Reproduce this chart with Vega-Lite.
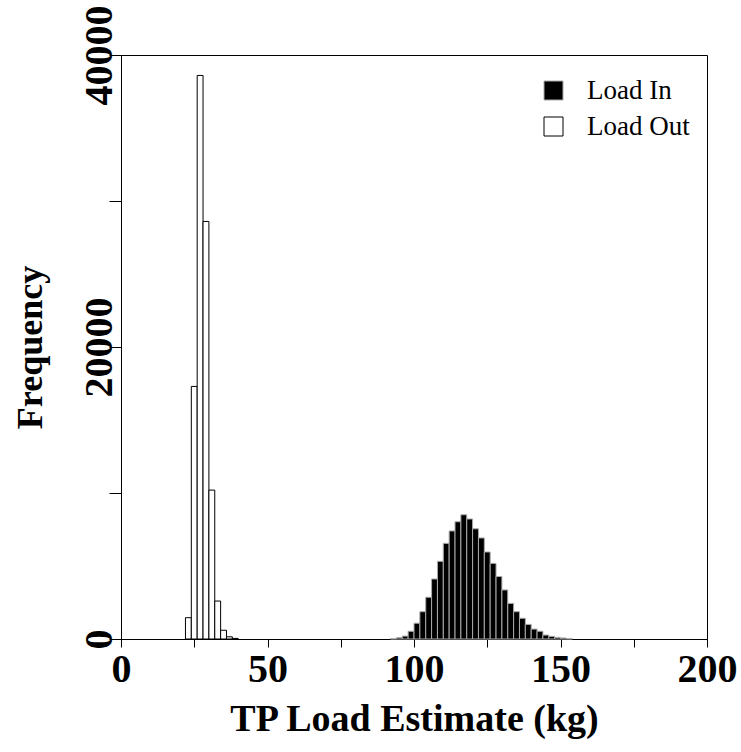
{
  "$schema": "https://vega.github.io/schema/vega-lite/v6.json",
  "width": 586,
  "height": 584,
  "autosize": {"type": "none"},
  "padding": {"left": 121, "top": 55, "right": 34, "bottom": 113},
  "background": "white",
  "config": {
    "view": {"stroke": "black", "strokeWidth": 1},
    "font": "Liberation Serif"
  },
  "data": {
    "values": [
      {"series": "Load Out", "start": 22, "end": 24, "count": 1460},
      {"series": "Load Out", "start": 24, "end": 26, "count": 17300},
      {"series": "Load Out", "start": 26, "end": 28, "count": 38600},
      {"series": "Load Out", "start": 28, "end": 30, "count": 28600},
      {"series": "Load Out", "start": 30, "end": 32, "count": 10200},
      {"series": "Load Out", "start": 32, "end": 34, "count": 2600},
      {"series": "Load Out", "start": 34, "end": 36, "count": 600},
      {"series": "Load Out", "start": 36, "end": 38, "count": 150},
      {"series": "Load Out", "start": 38, "end": 40, "count": 40},
      {"series": "Load In", "start": 92, "end": 94, "count": 20},
      {"series": "Load In", "start": 94, "end": 96, "count": 90},
      {"series": "Load In", "start": 96, "end": 98, "count": 200},
      {"series": "Load In", "start": 98, "end": 100, "count": 530},
      {"series": "Load In", "start": 100, "end": 102, "count": 1080},
      {"series": "Load In", "start": 102, "end": 104, "count": 1870},
      {"series": "Load In", "start": 104, "end": 106, "count": 2860},
      {"series": "Load In", "start": 106, "end": 108, "count": 4110},
      {"series": "Load In", "start": 108, "end": 110, "count": 5320},
      {"series": "Load In", "start": 110, "end": 112, "count": 6550},
      {"series": "Load In", "start": 112, "end": 114, "count": 7400},
      {"series": "Load In", "start": 114, "end": 116, "count": 8030},
      {"series": "Load In", "start": 116, "end": 118, "count": 8510},
      {"series": "Load In", "start": 118, "end": 120, "count": 8220},
      {"series": "Load In", "start": 120, "end": 122, "count": 7550},
      {"series": "Load In", "start": 122, "end": 124, "count": 6920},
      {"series": "Load In", "start": 124, "end": 126, "count": 5960},
      {"series": "Load In", "start": 126, "end": 128, "count": 5180},
      {"series": "Load In", "start": 128, "end": 130, "count": 4280},
      {"series": "Load In", "start": 130, "end": 132, "count": 3360},
      {"series": "Load In", "start": 132, "end": 134, "count": 2440},
      {"series": "Load In", "start": 134, "end": 136, "count": 1870},
      {"series": "Load In", "start": 136, "end": 138, "count": 1420},
      {"series": "Load In", "start": 138, "end": 140, "count": 1000},
      {"series": "Load In", "start": 140, "end": 142, "count": 680},
      {"series": "Load In", "start": 142, "end": 144, "count": 530},
      {"series": "Load In", "start": 144, "end": 146, "count": 270},
      {"series": "Load In", "start": 146, "end": 148, "count": 180},
      {"series": "Load In", "start": 148, "end": 150, "count": 110},
      {"series": "Load In", "start": 150, "end": 152, "count": 70},
      {"series": "Load In", "start": 152, "end": 154, "count": 20}
    ]
  },
  "mark": {"type": "bar", "strokeWidth": 1},
  "encoding": {
    "x": {
      "field": "start",
      "type": "quantitative",
      "scale": {"domain": [0, 200], "nice": false, "zero": false},
      "axis": {
        "values": [0, 25, 50, 75, 100, 125, 150, 175, 200],
        "labelExpr": "datum.value % 50 === 0 ? datum.label : ''",
        "grid": false,
        "domainColor": "black",
        "tickColor": "black",
        "tickSize": 8,
        "labelFontSize": 40,
        "labelFontWeight": "bold",
        "labelColor": "black",
        "labelBaseline": "alphabetic",
        "labelPadding": 34,
        "labelFlush": false,
        "labelOverlap": false,
        "labelBound": false,
        "title": "TP Load Estimate (kg)",
        "titleFontSize": 38,
        "titleFontWeight": "bold",
        "titleColor": "black",
        "titleBaseline": "alphabetic",
        "titleY": 91,
        "titleX": 293,
        "titleAnchor": "middle"
      }
    },
    "x2": {"field": "end"},
    "y": {
      "field": "count",
      "type": "quantitative",
      "scale": {"domain": [0, 40000], "nice": false},
      "axis": {
        "values": [0, 10000, 20000, 30000, 40000],
        "format": "d",
        "labelExpr": "datum.value % 20000 === 0 ? datum.label : ''",
        "grid": false,
        "domainColor": "black",
        "tickColor": "black",
        "tickSize": 12,
        "labelFontSize": 40,
        "labelFontWeight": "bold",
        "labelColor": "black",
        "labelAngle": 270,
        "labelAlign": "center",
        "labelBaseline": "alphabetic",
        "labelPadding": -2,
        "labelFlush": false,
        "labelOverlap": false,
        "labelBound": false,
        "title": "Frequency",
        "titleFontSize": 36,
        "titleFontWeight": "bold",
        "titleColor": "black",
        "titleAngle": 270,
        "titleAlign": "center",
        "titleBaseline": "alphabetic",
        "titleX": -80,
        "titleY": 292
      }
    },
    "y2": {"datum": 0},
    "fill": {
      "field": "series",
      "type": "nominal",
      "scale": {"domain": ["Load In", "Load Out"], "range": ["black", "white"]},
      "legend": {
        "title": null,
        "orient": "none",
        "legendX": 419,
        "legendY": 22,
        "symbolType": "square",
        "symbolSize": 361,
        "symbolStrokeColor": "black",
        "symbolStrokeWidth": 1,
        "labelFontSize": 27,
        "labelColor": "black",
        "labelFont": "Liberation Serif",
        "labelOffset": 20,
        "rowPadding": 8
      }
    },
    "stroke": {
      "field": "series",
      "type": "nominal",
      "scale": {"domain": ["Load In", "Load Out"], "range": ["#aaaaaa", "black"]},
      "legend": null
    }
  }
}
